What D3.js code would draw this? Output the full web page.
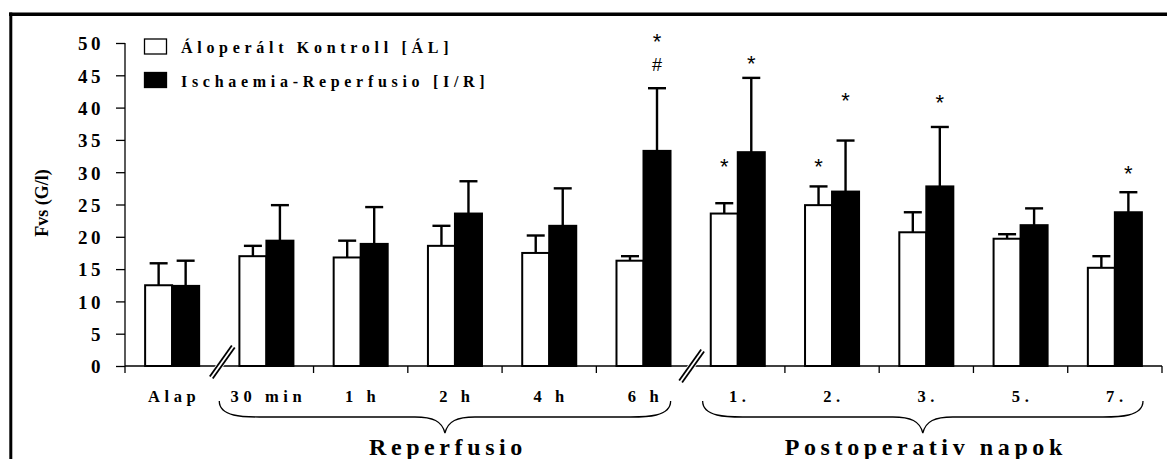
<!DOCTYPE html>
<html>
<head>
<meta charset="utf-8">
<title>Fvs (G/l)</title>
<script src="https://d3js.org/d3.v7.min.js"></script>
<style>
  body { margin: 0; background: #fff; }
  svg text { font-family: "Liberation Serif", "Times New Roman", serif; fill: #000; }
</style>
</head>
<body>
<div id="chart"></div>
<script>
// categories along the x axis
var categories = ["Alap", "30 min", "1 h", "2 h", "4 h", "6 h", "1.", "2.", "3.", "5.", "7."];
var series = ["Áloperált Kontroll [ÁL]", "Ischaemia-Reperfusio [I/R]"];

// means and upper error values (G/l)
var kontroll    = [12.5, 17.0, 16.8, 18.6, 17.5, 16.3, 23.6, 24.9, 20.7, 19.7, 15.2];
var kontrollErr = [15.9, 18.6, 19.4, 21.7, 20.2, 17.0, 25.2, 27.8, 23.8, 20.4, 17.0];
var ischaemia    = [12.4, 19.4, 18.9, 23.6, 21.7, 33.3, 33.1, 27.0, 27.8, 21.8, 23.8];
var ischaemiaErr = [16.3, 24.9, 24.6, 28.6, 27.5, 43.0, 44.6, 34.9, 37.0, 24.4, 26.9];

var yTicks = [0, 5, 10, 15, 20, 25, 30, 35, 40, 45, 50];

// significance marks: category, series index, symbol, height in G/l
var marks = [
  {cat: "6 h", s: 1, t: "*", v: 50.3},
  {cat: "6 h", s: 1, t: "#", v: 46.0},
  {cat: "1.",  s: 0, t: "*", v: 31.0},
  {cat: "1.",  s: 1, t: "*", v: 46.9},
  {cat: "2.",  s: 0, t: "*", v: 31.0},
  {cat: "2.",  s: 1, t: "*", v: 41.2},
  {cat: "3.",  s: 1, t: "*", v: 40.8},
  {cat: "7.",  s: 1, t: "*", v: 29.9}
];

// axis breaks sit between these categories
var breaks = [["Alap", "30 min"], ["6 h", "1."]];

// grouping braces under the axis
var groups = [
  {label: "Reperfusio", from: "30 min", to: "6 h", inL: 0, inR: 20},
  {label: "Postoperativ napok", from: "1.", to: "7.", inL: 12, inR: 19}
];

var W = 1167, H = 459;
var svg = d3.select("#chart").append("svg").attr("width", W).attr("height", H);

var x = d3.scaleBand().domain(categories).range([125, 1162]).paddingInner(0).paddingOuter(0);
var x1 = d3.scaleBand().domain([0, 1]).range([0, x.bandwidth()]).paddingOuter(0.745);
var y = d3.scaleLinear().domain([0, 50]).range([366, 43]);

// frame
svg.append("line").attr("x1", 9).attr("x2", W).attr("y1", 14.3).attr("y2", 14.3)
  .attr("stroke", "#000").attr("stroke-width", 3.5);
svg.append("line").attr("x1", 10.8).attr("x2", 10.8).attr("y1", 12.5).attr("y2", H)
  .attr("stroke", "#000").attr("stroke-width", 3);

// data rows
var rows = categories.map(function(c, i) {
  return [
    {cat: c, s: 0, v: kontroll[i], e: kontrollErr[i]},
    {cat: c, s: 1, v: ischaemia[i], e: ischaemiaErr[i]}
  ];
});
var flat = d3.merge(rows);
function cx(d) { return x(d.cat) + x1(d.s) + x1.bandwidth() / 2; }

// error bars (drawn before bars so the bar covers the stem)
var eb = svg.append("g").attr("stroke", "#000").attr("stroke-width", 2.4);
eb.selectAll(".stem").data(flat).enter().append("line")
  .attr("x1", cx).attr("x2", cx)
  .attr("y1", function(d) { return y(d.v); })
  .attr("y2", function(d) { return y(d.e); });
eb.selectAll(".cap").data(flat).enter().append("line")
  .attr("x1", function(d) { return cx(d) - 9; })
  .attr("x2", function(d) { return cx(d) + 9; })
  .attr("y1", function(d) { return y(d.e); })
  .attr("y2", function(d) { return y(d.e); });

// bars
svg.append("g").selectAll("rect").data(flat).enter().append("rect")
  .attr("x", function(d) { return x(d.cat) + x1(d.s); })
  .attr("width", x1.bandwidth())
  .attr("y", function(d) { return y(d.v); })
  .attr("height", function(d) { return y(0) - y(d.v); })
  .attr("fill", function(d) { return d.s ? "#000" : "#fff"; })
  .attr("stroke", "#000")
  .attr("stroke-width", 2);

// y axis
var yAxis = svg.append("g").attr("transform", "translate(125,0)")
  .call(d3.axisLeft(y).tickValues(yTicks).tickSize(9).tickPadding(12));
yAxis.select(".domain").attr("stroke-width", 1.3).attr("d", "M0," + y(50) + "V" + y(0));
yAxis.selectAll(".tick line").attr("stroke-width", 1.3);
yAxis.selectAll(".tick text")
  .style("font-family", "'Liberation Serif', serif")
  .attr("font-size", 19).attr("font-weight", "bold")
  .attr("letter-spacing", 3.5).attr("dy", "0.36em");

// x axis line and ticks
var bounds = d3.range(categories.length + 1).map(function(i) { return 125 + i * x.step(); });
var breakX = breaks.map(function(b) { return x(b[1]); });
svg.append("line").attr("x1", 125).attr("x2", 1162).attr("y1", y(0)).attr("y2", y(0))
  .attr("stroke", "#000").attr("stroke-width", 1.3);
svg.append("g").selectAll("line")
  .data(bounds.filter(function(b) { return !breakX.some(function(k) { return Math.abs(k - b) < 1; }); }))
  .enter().append("line")
  .attr("x1", function(d) { return d; }).attr("x2", function(d) { return d; })
  .attr("y1", y(0)).attr("y2", y(0) + 7)
  .attr("stroke", "#000").attr("stroke-width", 1.3);

// category labels
svg.append("g").selectAll("text").data(categories).enter().append("text")
  .attr("x", function(d) { return x(d) + x.bandwidth() / 2 + 2; })
  .attr("y", 402)
  .attr("text-anchor", "middle")
  .attr("font-size", 16.5).attr("font-weight", "bold").attr("letter-spacing", 4.6)
  .text(function(d) { return d; });

// axis break marks
breaks.forEach(function(b, i) {
  var bx = x(b[1]) + (i === 0 ? 3 : 1), by = y(0) - (i === 0 ? 4 : 0);
  var dx = 11, dy = -15.5;
  var g = svg.append("g");
  g.append("line").attr("x1", bx - dx).attr("y1", by - dy).attr("x2", bx + dx).attr("y2", by + dy)
    .attr("stroke", "#fff").attr("stroke-width", 7);
  [-1.8, 1.8].forEach(function(o) {
    var px = 0.816 * o, py = 0.579 * o;
    g.append("line").attr("x1", bx - dx + px).attr("y1", by - dy + py)
      .attr("x2", bx + dx + px).attr("y2", by + dy + py)
      .attr("stroke", "#000").attr("stroke-width", 1.8);
  });
});

// braces
groups.forEach(function(g) {
  var a = x(g.from) + g.inL, b = x(g.to) + x.bandwidth() - g.inR, m = (a + b) / 2;
  var top = 401, mid = 417, tip = 433;
  var p = d3.path();
  p.moveTo(a, top);
  p.bezierCurveTo(a, mid, a + 25, mid, a + 40, mid);
  p.lineTo(m - 30, mid);
  p.bezierCurveTo(m - 12, mid, m - 3, mid + 4, m, tip);
  p.bezierCurveTo(m + 3, mid + 4, m + 12, mid, m + 30, mid);
  p.lineTo(b - 40, mid);
  p.bezierCurveTo(b - 25, mid, b, mid, b, top);
  svg.append("path").attr("d", p.toString()).attr("fill", "none")
    .attr("stroke", "#000").attr("stroke-width", 1.3);
  svg.append("text").attr("x", m + 3).attr("y", 455)
    .attr("text-anchor", "middle")
    .attr("font-size", 24).attr("font-weight", "bold").attr("letter-spacing", 4.6)
    .text(g.label);
});

// significance marks
svg.append("g").selectAll("text").data(marks).enter().append("text")
  .attr("x", function(d) { return x(d.cat) + x1(d.s) + x1.bandwidth() / 2; })
  .attr("y", function(d) { return y(d.v); })
  .attr("dy", function(d) { return d.t === "*" ? 8 : 2; })
  .attr("text-anchor", "middle")
  .style("font-family", "'Liberation Sans', Arial, sans-serif")
  .attr("font-size", function(d) { return d.t === "*" ? 22 : 18; })
  .text(function(d) { return d.t; });

// y axis title
svg.append("text")
  .attr("transform", "translate(48,203) rotate(-90)")
  .attr("text-anchor", "middle")
  .attr("font-size", 18).attr("font-weight", "bold")
  .text("Fvs (G/l)");

// legend
var legend = svg.append("g");
series.forEach(function(s, i) {
  var ly = 39 + i * 33.5;
  legend.append("rect").attr("x", 144.5).attr("y", ly).attr("width", 22).attr("height", 15)
    .attr("fill", i ? "#000" : "#fff").attr("stroke", "#000").attr("stroke-width", 1.3);
  legend.append("text").attr("x", 181).attr("y", ly + 14)
    .attr("font-size", 16).attr("font-weight", "bold").attr("letter-spacing", 4.7)
    .text(s);
});
</script>
</body>
</html>
